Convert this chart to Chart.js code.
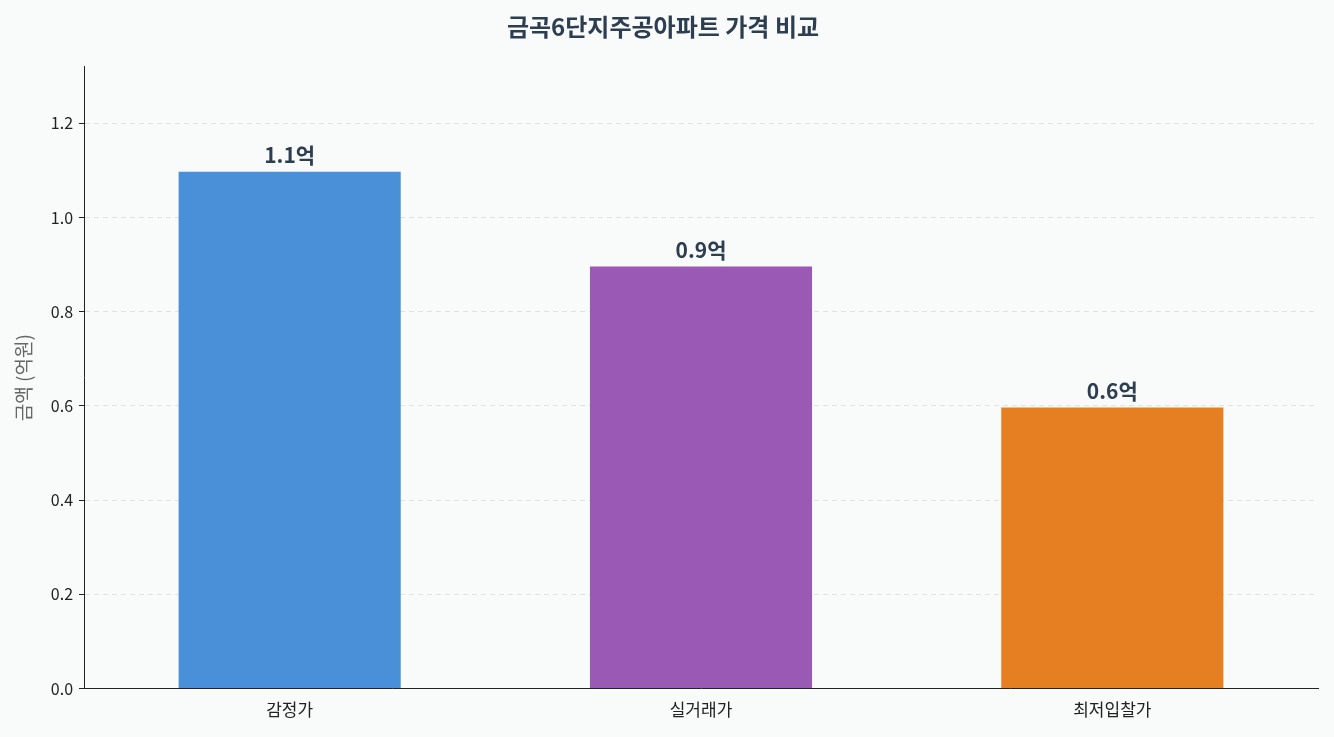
<!DOCTYPE html>
<html><head><meta charset="utf-8">
<script src="https://cdn.jsdelivr.net/npm/chart.js@4"></script>
<style>html,body{margin:0;background:#f9fafa}#w{width:1334px;height:737px}</style>
</head><body><div id="w"><canvas id="c"></canvas></div>
<script>
const categories = ['감정가','실거래가','최저입찰가'];
const values = [1.097, 0.896, 0.597];
const valueLabels = ['1.1억','0.9억','0.6억'];
const colors = ['#4a90d9','#9b59b6','#e67e22'];
const F = "'Noto Sans CJK KR','Noto Sans',sans-serif";
const lbl = {id:'lbl',afterDatasetsDraw(ch){const c=ch.ctx;const m=ch.getDatasetMeta(0);c.save();c.font="bold 21px "+F;c.fillStyle='#2c3e50';c.textAlign='center';c.textBaseline='bottom';
m.data.forEach((b,i)=>c.fillText(valueLabels[i],b.x,b.y-6));c.restore();}};
new Chart(document.getElementById('c'),{type:'bar',
data:{labels:categories,datasets:[{data:values,backgroundColor:colors,barPercentage:0.54,categoryPercentage:1}]},
plugins:[lbl],
options:{responsive:true,maintainAspectRatio:false,animation:false,
layout:{padding:{left:8,right:16,top:4,bottom:14}},
plugins:{legend:{display:false},tooltip:{enabled:false},
title:{display:true,text:'금곡6단지주공아파트 가격 비교',color:'#2c3e50',font:{family:F,size:24,weight:'bold'},padding:{top:8,bottom:26}}},
scales:{x:{grid:{display:false},border:{color:'#222'},ticks:{color:'#222',font:{family:F,size:17}}},
y:{min:0,max:1.32,border:{color:'#222',dash:[5,4]},grid:{color:'#e2e2e2',drawTicks:true,tickColor:'#222',tickLength:5},
ticks:{stepSize:0.2,color:'#222',padding:6,font:{family:F,size:16},callback:v=>v.toFixed(1)},
afterBuildTicks:a=>{a.ticks=a.ticks.filter(t=>t.value<=1.21);},
title:{display:true,text:'금액 (억원)',color:'#666',font:{family:F,size:19},padding:{bottom:10}}}}}});
</script></body></html>
